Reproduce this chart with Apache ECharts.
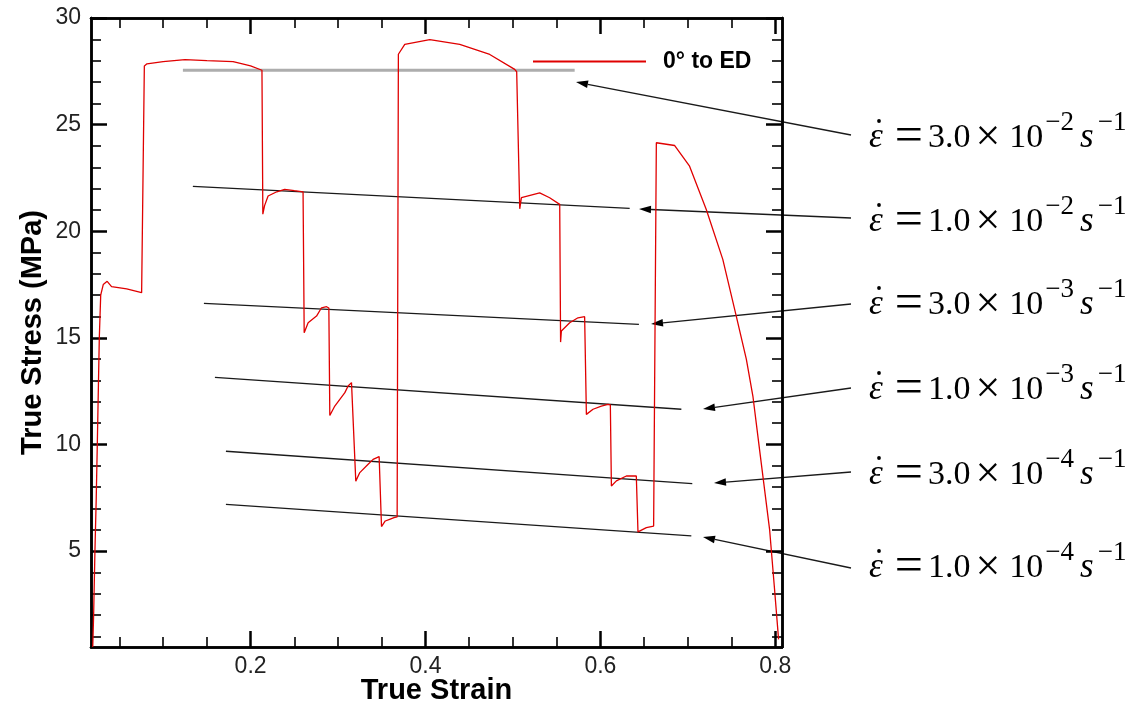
<!DOCTYPE html>
<html>
<head>
<meta charset="utf-8">
<script src="https://cdn.jsdelivr.net/npm/echarts@6/dist/echarts.min.js"></script>
<style>html,body{margin:0;padding:0;background:#fff}#c{width:1142px;height:707px}</style>
</head>
<body>
<div id="c"></div>
<script>
// ---- data ----
const strain = [
  0.0195, 0.0205, 0.0220, 0.0235, 0.0247, 0.0270, 0.0286, 0.0315, 0.0360, 0.0410, 0.0583, 0.0754, 0.0768,
  0.0785, 0.0815, 0.100, 0.125, 0.150, 0.180, 0.200, 0.2130,
  0.2140, 0.2160, 0.2200, 0.2300, 0.2390, 0.2500, 0.2600,
  0.2613, 0.2658, 0.2754, 0.2811, 0.2869, 0.2895,
  0.2906, 0.2963, 0.3078, 0.3115, 0.3154, 0.3173,
  0.3203, 0.3249, 0.3344, 0.3401, 0.3470, 0.3478,
  0.3497, 0.3540, 0.3590, 0.3640, 0.3676,
  0.3690, 0.3763, 0.4049, 0.4392, 0.4735, 0.5020, 0.5043,
  0.5078, 0.5097, 0.5306, 0.5420, 0.5535,
  0.5545, 0.5554, 0.5649, 0.5744, 0.5820,
  0.5840, 0.5916, 0.6011, 0.6087, 0.6114,
  0.6126, 0.6183, 0.6297, 0.6411, 0.6418,
  0.6430, 0.6526, 0.6609, 0.6621,
  0.6640, 0.6850, 0.7020, 0.7211, 0.7400, 0.7554, 0.7669, 0.7744, 0.7820, 0.7935, 0.7992, 0.8038
];
const stress = [
  0.5, 2.0, 5.0, 7.5, 10.0, 15.0, 17.0, 17.5, 17.65, 17.4, 17.3, 17.12, 17.1,
  27.75, 27.85, 27.95, 28.05, 28.0, 27.95, 27.75, 27.55,
  20.8, 21.2, 21.65, 21.85, 21.96, 21.9, 21.85,
  15.24, 15.71, 16.02, 16.41, 16.46, 16.4,
  11.36, 11.8, 12.43, 12.74, 12.9, 12.85,
  8.28, 8.68, 9.07, 9.3, 9.43, 9.35,
  6.15, 6.41, 6.49, 6.57, 6.6,
  28.3, 28.76, 28.99, 28.76, 28.29, 27.59, 27.48,
  21.05, 21.57, 21.8, 21.57, 21.26,
  14.8, 15.32, 15.71, 15.94, 15.99,
  11.41, 11.65, 11.8, 11.88, 11.85,
  8.05, 8.29, 8.52, 8.52, 8.5,
  5.9, 6.1, 6.17, 6.2,
  24.15, 24.02, 23.05, 21.02, 18.68, 16.02, 14.0, 12.27, 9.77, 6.02, 3.2, 0.86
];
const seriesName = '0° to ED';

// reference (strain-rate) guide lines: [startStrain, startStress, endStrain, endStress]
const grayGuide = [0.1226, 27.55, 0.5706, 27.55];
const rateGuides = [
  [0.134, 22.1, 0.6335, 21.07],
  [0.1466, 16.62, 0.6441, 15.63],
  [0.1592, 13.15, 0.6926, 11.65],
  [0.1718, 9.68, 0.7051, 8.16],
  [0.1718, 7.19, 0.704, 5.71]
];
const rateMantissa = ['3.0', '1.0', '3.0', '1.0', '3.0', '1.0'];
const rateExponent = ['2', '2', '3', '3', '4', '4'];

// axis ticks
const xMin = 0.0175, xMax = 0.8077;
const yMin = 0.5, yMax = 30;
const xMajor = [0.2, 0.4, 0.6, 0.8];
const xMinor = [0.05, 0.1, 0.15, 0.25, 0.3, 0.35, 0.45, 0.5, 0.55, 0.65, 0.7, 0.75];
const yMajor = [5, 10, 15, 20, 25, 30];
const yMinor = [1, 2, 3, 4, 6, 7, 8, 9, 11, 12, 13, 14, 16, 17, 18, 19, 21, 22, 23, 24, 26, 27, 28, 29];

// ---- layout (annotation positions in px) ----
const arrowTips = [[576, 82], [639, 209], [651, 324], [703, 409], [714, 483], [703, 537]];
const arrowTails = [[851, 135], [851, 218], [851, 304], [851, 388], [851, 472], [851, 568]];
const labelX = 869;
const labelY = [138, 222, 305, 390, 475, 568];

const chart = echarts.init(document.getElementById('c'), null, {renderer: 'canvas'});

const sans = 'Liberation Sans, Arial, sans-serif';
const serif = 'Liberation Serif, Times New Roman, serif';

function makeX(pos, major) {
  return {
    type: 'value', min: xMin, max: xMax, position: pos,
    axisLine: {show: true, onZero: false, lineStyle: {color: '#000', width: 2.5}},
    axisTick: {show: true, inside: true, length: major ? 16 : 10, customValues: major ? xMajor : xMinor,
      lineStyle: {color: '#000', width: major ? 2.5 : 1.6}},
    axisLabel: {show: pos === 'bottom' && major, customValues: xMajor, fontSize: 23, color: '#222',
      fontFamily: sans, margin: 8, formatter: v => String(Math.round(v * 10) / 10)},
    splitLine: {show: false},
    name: (pos === 'bottom' && major) ? 'True Strain' : '',
    nameLocation: 'middle', nameGap: 29, nameMoveOverlap: false,
    nameTextStyle: {fontSize: 29, fontWeight: 'bold', color: '#000', fontFamily: sans}
  };
}
function makeY(pos, major) {
  return {
    type: 'value', min: yMin, max: yMax, position: pos,
    axisLine: {show: true, onZero: false, lineStyle: {color: '#000', width: 2.5}},
    axisTick: {show: true, inside: true, length: major ? 16 : 10, customValues: major ? yMajor : yMinor,
      lineStyle: {color: '#000', width: major ? 2.5 : 1.6}},
    axisLabel: {show: pos === 'left' && major, customValues: yMajor, fontSize: 23, color: '#222',
      fontFamily: sans, margin: 10},
    splitLine: {show: false},
    name: (pos === 'left' && major) ? 'True Stress (MPa)' : '',
    nameLocation: 'middle', nameGap: 44, nameMoveOverlap: false,
    nameTextStyle: {fontSize: 29, fontWeight: 'bold', color: '#000', fontFamily: sans}
  };
}

function guideSeries(g, color, width, name) {
  return {
    name: name, type: 'line', xAxisIndex: 0, yAxisIndex: 0,
    data: [[g[0], g[1]], [g[2], g[3]]],
    symbol: 'none', silent: true,
    lineStyle: {color: color, width: width}, z: 1
  };
}

const series = [
  {
    name: seriesName, type: 'line', xAxisIndex: 0, yAxisIndex: 0,
    data: strain.map((x, i) => [x, stress[i]]),
    symbol: 'none', showSymbol: false,
    lineStyle: {color: '#e00000', width: 1.3}, itemStyle: {color: '#e00000'}, z: 3
  },
  guideSeries(grayGuide, '#adadad', 3, 'g0')
].concat(rateGuides.map((g, i) => guideSeries(g, '#1a1a1a', 1.3, 'g' + (i + 1))));

// annotation graphics
const graphics = [];
arrowTips.forEach((tip, i) => {
  const tail = arrowTails[i];
  const dx = tail[0] - tip[0], dy = tail[1] - tip[1];
  const len = Math.sqrt(dx * dx + dy * dy);
  const ux = dx / len, uy = dy / len;
  const hl = 12, hw = 3.8;
  const bx = tip[0] + ux * hl, by = tip[1] + uy * hl;
  graphics.push({type: 'line', silent: true,
    shape: {x1: tail[0], y1: tail[1], x2: bx, y2: by},
    style: {stroke: '#1a1a1a', lineWidth: 1.3}});
  graphics.push({type: 'polygon', silent: true,
    shape: {points: [[tip[0], tip[1]], [bx - uy * hw, by + ux * hw], [bx + uy * hw, by - ux * hw]]},
    style: {fill: '#000'}});
});
const rich = {
  e: {fontFamily: serif, fontStyle: 'italic', fontSize: 35, lineHeight: 58, padding: [0, 12, 0, 0], fill: '#000'},
  q: {fontFamily: serif, fontSize: 50, lineHeight: 58, padding: [0, 5, 0, 0], fill: '#000'},
  n: {fontFamily: serif, fontSize: 34, lineHeight: 58, fill: '#000'},
  x: {fontFamily: serif, fontSize: 44, lineHeight: 58, padding: [0, 9, 0, 5], fill: '#000'},
  p: {fontFamily: serif, fontSize: 27, lineHeight: 27, verticalAlign: 'top', padding: [0, 0, 0, 2], fill: '#000'},
  s: {fontFamily: serif, fontStyle: 'italic', fontSize: 35, lineHeight: 58, padding: [0, 2, 0, 6], fill: '#000'}
};
labelY.forEach((y, i) => {
  graphics.push({
    type: 'text', x: labelX, y: y, silent: true,
    style: {
      text: '{e|\u03b5}{q|=}{n|' + rateMantissa[i] + '}{x|\u00d7}{n|10}{p|\u2212' + rateExponent[i] + '}{s|s}{p|\u22121}',
      rich: rich, align: 'left', verticalAlign: 'middle'
    }
  });
  // overdot of the epsilon (time derivative)
  graphics.push({type: 'circle', silent: true, shape: {cx: labelX + 10, cy: y - 17, r: 1.9}, style: {fill: '#000'}});
});

chart.setOption({
  animation: false,
  backgroundColor: '#fff',
  grid: {left: 91, right: 360, top: 18, bottom: 60, containLabel: false, outerBoundsMode: 'none'},
  legend: {
    data: [{name: seriesName, icon: 'rect'}], left: 528, top: 45, itemWidth: 113, itemHeight: 2, itemGap: 0,
    textStyle: {fontSize: 23, fontWeight: 'bold', color: '#000', fontFamily: sans, padding: [0, 0, 0, 12]}
  },
  xAxis: [makeX('bottom', true), makeX('bottom', false), makeX('top', true), makeX('top', false)],
  yAxis: [makeY('left', true), makeY('left', false), makeY('right', true), makeY('right', false)],
  series: series,
  graphic: graphics
});
</script>
</body>
</html>
